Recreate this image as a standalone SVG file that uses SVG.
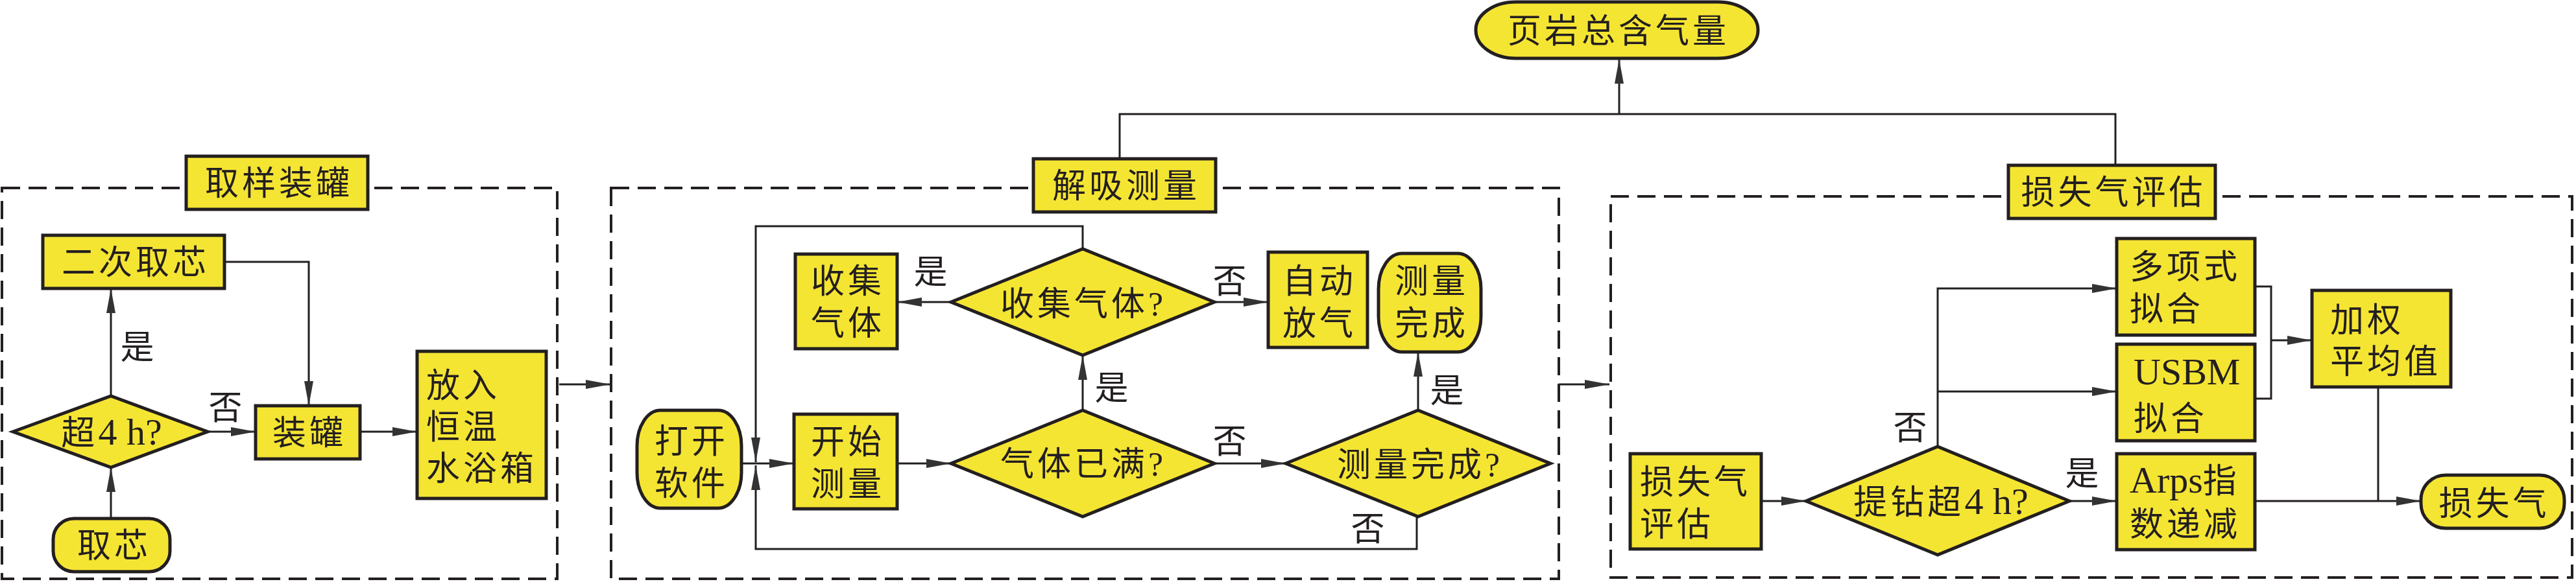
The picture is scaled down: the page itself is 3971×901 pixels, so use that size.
<svg xmlns="http://www.w3.org/2000/svg" width="3971" height="901" viewBox="0 0 3971 901">
<defs>
<style>
.box{fill:#F5E533;stroke:#231F20;stroke-width:5}
.dash{fill:none;stroke:#231F20;stroke-width:4;stroke-dasharray:28 13}
.c{fill:none;stroke:#231F20;stroke-width:3}
.a{marker-end:url(#arr)}
text{font-family:"Liberation Serif","Noto Sans CJK SC",sans-serif;font-size:52px;fill:#231F20;letter-spacing:5px}
.m{text-anchor:middle}
.lat{font-size:58px;letter-spacing:0}
</style>
<marker id="arr" viewBox="0 0 38 14" refX="38" refY="7" markerWidth="38" markerHeight="14" markerUnits="userSpaceOnUse" orient="auto">
<path d="M0,0 L38,7 L0,14 z" fill="#333"/>
</marker>
</defs>
<rect width="3971" height="901" fill="#fff"/>

<g id="frames">
<rect class="dash" x="3" y="290" width="856" height="603"/>
<rect class="dash" x="942" y="290" width="1461" height="603"/>
<rect class="dash" x="2483" y="303" width="1482" height="588"/>
</g>

<g id="connectors">
<!-- top -->
<path class="c" d="M1726,245 V176 H3261 V255" stroke-width="4"/>
<path class="c a" d="M2496,176 V91"/>
<!-- left group -->
<path class="c a" d="M171,800 V721"/>
<path class="c a" d="M171,611 V445"/>
<path class="c a" d="M320,666 H394"/>
<path class="c a" d="M346,404 H476 V626"/>
<path class="c a" d="M555,666 H643"/>
<path class="c a" d="M862,593 H941"/>
<!-- middle group -->
<path class="c a" d="M1143,715 H1224"/>
<path class="c a" d="M1383,715 H1466"/>
<path class="c a" d="M1872,715 H1982"/>
<path class="c a" d="M1669,633 V548"/>
<path class="c a" d="M1466,466 H1383"/>
<path class="c a" d="M1872,466 H1955"/>
<path class="c a" d="M1669,384 V349 H1165 V713"/>
<path class="c a" d="M2184,797 V847 H1165 V718"/>
<path class="c a" d="M2186,633 V543"/>
<path class="c a" d="M2403,593 H2481"/>
<!-- right group -->
<path class="c a" d="M2715,773 H2784"/>
<path class="c a" d="M3190,773 H3263"/>
<path class="c a" d="M2987,689 V445 H3263"/>
<path class="c a" d="M2987,604 H3263"/>
<path class="c" d="M3476,442 H3501 V615 H3476"/>
<path class="c a" d="M3501,525 H3564"/>
<path class="c" d="M3666,597 V773"/>
<path class="c a" d="M3476,773 H3732"/>
</g>

<g id="labels">
<text class="m" x="214" y="554">是</text>
<text class="m" x="350" y="647">否</text>
<text class="m" x="1437" y="438">是</text>
<text class="m" x="1898" y="452">否</text>
<text class="m" x="1716" y="617">是</text>
<text class="m" x="1898" y="699">否</text>
<text class="m" x="2233" y="621">是</text>
<text class="m" x="2111" y="834">否</text>
<text class="m" x="2947" y="678">否</text>
<text class="m" x="3212" y="749">是</text>
</g>

<g id="n-total"><rect class="box" x="2275" y="3" width="435" height="87" rx="62" ry="43"/><text class="m" x="2495" y="66">页岩总含气量</text></g>

<g id="n-sampling-title"><rect class="box" x="287" y="241" width="280" height="82"/><text class="m" x="430" y="301">取样装罐</text></g>
<g id="n-recore"><rect class="box" x="66" y="363" width="280" height="82"/><text class="m" x="209" y="423">二次取芯</text></g>
<g id="n-over4h"><polygon class="box" points="20,666 171,611 320,666 171,721"/><text class="m" x="172" y="686">超<tspan class="lat">4 h?</tspan></text></g>
<g id="n-core"><rect class="box" x="82" y="800" width="180" height="82" rx="32" ry="32"/><text class="m" x="176" y="860">取芯</text></g>
<g id="n-can"><rect class="box" x="394" y="626" width="161" height="82"/><text class="m" x="477" y="686">装罐</text></g>
<g id="n-bath"><rect class="box" x="643" y="542" width="199" height="227"/><text x="657" y="613">放入<tspan x="657" y="677">恒温</tspan><tspan x="657" y="741">水浴箱</tspan></text></g>

<g id="n-desorb-title"><rect class="box" x="1593" y="245" width="281" height="82"/><text class="m" x="1736" y="305">解吸测量</text></g>
<g id="n-collect"><rect class="box" x="1226" y="392" width="157" height="146"/><text class="m" x="1307" y="452">收集<tspan x="1307" y="517">气体</tspan></text></g>
<g id="n-collect-q"><polygon class="box" points="1466,466 1669,384 1872,466 1669,548"/><text class="m" x="1670" y="487">收集气体?</text></g>
<g id="n-vent"><rect class="box" x="1955" y="389" width="153" height="147"/><text class="m" x="2034" y="452">自动<tspan x="2034" y="517">放气</tspan></text></g>
<g id="n-done"><rect class="box" x="2125" y="391" width="158" height="152" rx="36" ry="55"/><text class="m" x="2207" y="452">测量<tspan x="2207" y="517">完成</tspan></text></g>
<g id="n-open"><rect class="box" x="982" y="633" width="161" height="151" rx="36" ry="55"/><text class="m" x="1066" y="699">打开<tspan x="1066" y="764">软件</tspan></text></g>
<g id="n-start"><rect class="box" x="1224" y="639" width="159" height="146"/><text class="m" x="1307" y="700">开始<tspan x="1307" y="765">测量</tspan></text></g>
<g id="n-full-q"><polygon class="box" points="1466,715 1669,633 1872,715 1669,797"/><text class="m" x="1670" y="734">气体已满?</text></g>
<g id="n-done-q"><polygon class="box" points="1982,715 2186,633 2390,715 2186,797"/><text class="m" x="2189" y="735">测量完成?</text></g>

<g id="n-loss-title"><rect class="box" x="3096" y="255" width="319" height="82"/><text class="m" x="3258" y="315">损失气评估</text></g>
<g id="n-loss-eval"><rect class="box" x="2513" y="700" width="202" height="147"/><text x="2528" y="762">损失气<tspan x="2528" y="827">评估</tspan></text></g>
<g id="n-pull-q"><polygon class="box" points="2784,773 2987,689 3190,773 2987,856"/><text class="m" x="2992" y="793">提钻超<tspan class="lat">4 h?</tspan></text></g>
<g id="n-poly"><rect class="box" x="3263" y="368" width="213" height="149"/><text x="3283" y="430">多项式<tspan x="3283" y="495">拟合</tspan></text></g>
<g id="n-usbm"><rect class="box" x="3263" y="531" width="213" height="149"/><text x="3289" y="593"><tspan class="lat">USBM</tspan><tspan x="3289" y="664">拟合</tspan></text></g>
<g id="n-arps"><rect class="box" x="3263" y="700" width="213" height="148"/><text x="3283" y="760"><tspan class="lat">Arps</tspan>指<tspan x="3283" y="827">数递减</tspan></text></g>
<g id="n-weighted"><rect class="box" x="3564" y="448" width="214" height="149"/><text x="3592" y="512">加权<tspan x="3592" y="576">平均值</tspan></text></g>
<g id="n-loss"><rect class="box" x="3732" y="733" width="221" height="82" rx="38" ry="38"/><text class="m" x="3845" y="795">损失气</text></g>
</svg>
